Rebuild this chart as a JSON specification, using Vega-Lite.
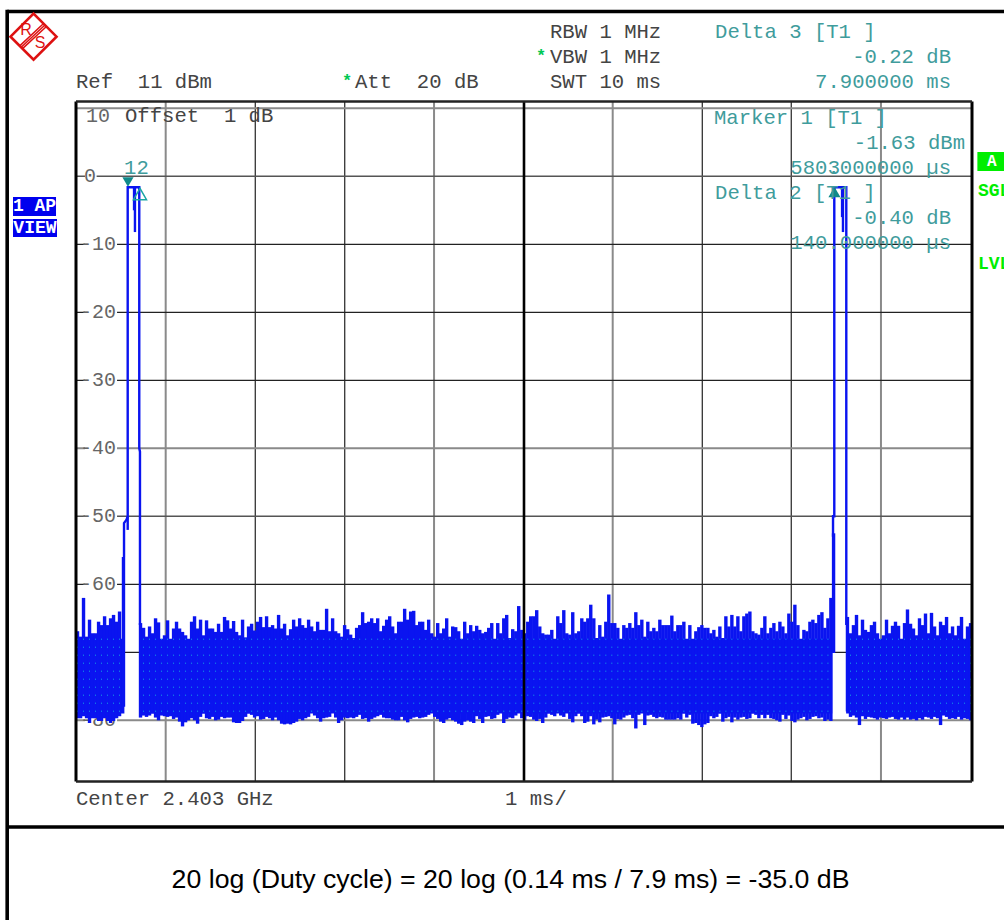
{"$schema":"https://vega.github.io/schema/vega-lite/v6.json","width":896,"height":680,"autosize":{"type":"none"},"padding":{"left":76,"top":101.5,"right":32,"bottom":138.5},"background":"white","config":{"view":{"stroke":null}},
"datasets":{
"noise":[
{"t":0.017,"v":-66.9,"v2":-79.7},{"t":0.051,"v":-67.7,"v2":-79.7},{"t":0.084,"v":-62,"v2":-79.4},{"t":0.118,"v":-67.7,"v2":-79.7},{"t":0.151,"v":-65.2,"v2":-80.4},{"t":0.185,"v":-67.2,"v2":-79.7},{"t":0.218,"v":-67.2,"v2":-79.7},{"t":0.252,"v":-65.5,"v2":-80.1},{"t":0.285,"v":-66,"v2":-80.1},{"t":0.319,"v":-64.7,"v2":-79.7},{"t":0.352,"v":-66,"v2":-80.1},{"t":0.386,"v":-65,"v2":-80.4},{"t":0.419,"v":-64.5,"v2":-80.1},{"t":0.453,"v":-65.5,"v2":-79.7},{"t":0.486,"v":-64,"v2":-79.4},{"t":0.53,"v":-56,"v2":-78},
{"t":0.72,"v":-65.7,"v2":-79.6},{"t":0.754,"v":-66.4,"v2":-79.3},{"t":0.787,"v":-67.7,"v2":-79.5},{"t":0.821,"v":-66.2,"v2":-79.3},{"t":0.854,"v":-67.2,"v2":-79},{"t":0.888,"v":-65,"v2":-79.6},{"t":0.921,"v":-65.6,"v2":-80},{"t":0.955,"v":-68.1,"v2":-79.3},{"t":0.988,"v":-67.5,"v2":-79.4},{"t":1.022,"v":-65.3,"v2":-79.5},
{"t":1.055,"v":-68.1,"v2":-79.4},{"t":1.089,"v":-66.5,"v2":-79.8},{"t":1.122,"v":-65.5,"v2":-79.6},{"t":1.156,"v":-66.5,"v2":-80.2},{"t":1.189,"v":-67,"v2":-80.9},{"t":1.223,"v":-67.5,"v2":-80.3},{"t":1.256,"v":-68.3,"v2":-80},{"t":1.29,"v":-65.5,"v2":-79.7},{"t":1.323,"v":-64.7,"v2":-80},{"t":1.357,"v":-66.5,"v2":-80.5},
{"t":1.39,"v":-65.2,"v2":-79.5},{"t":1.424,"v":-67.5,"v2":-79},{"t":1.457,"v":-65.3,"v2":-79.7},{"t":1.491,"v":-66.5,"v2":-79.8},{"t":1.524,"v":-66.5,"v2":-79.5},{"t":1.558,"v":-67,"v2":-80},{"t":1.591,"v":-65.8,"v2":-79.9},{"t":1.625,"v":-67,"v2":-79.5},{"t":1.658,"v":-64.8,"v2":-79.7},{"t":1.692,"v":-65.3,"v2":-79.6},
{"t":1.725,"v":-66.5,"v2":-79.6},{"t":1.759,"v":-65.4,"v2":-80.3},{"t":1.792,"v":-67,"v2":-80.4},{"t":1.826,"v":-67.5,"v2":-80.4},{"t":1.859,"v":-65.2,"v2":-80.1},{"t":1.893,"v":-67.8,"v2":-79.5},{"t":1.926,"v":-66.2,"v2":-79},{"t":1.96,"v":-65.8,"v2":-79.2},{"t":1.993,"v":-66.8,"v2":-79.6},{"t":2.027,"v":-65.5,"v2":-79.4},
{"t":2.06,"v":-64.8,"v2":-79.9},{"t":2.094,"v":-66.3,"v2":-79.8},{"t":2.127,"v":-64.7,"v2":-79.5},{"t":2.161,"v":-66.3,"v2":-79.7},{"t":2.194,"v":-66,"v2":-80},{"t":2.228,"v":-66.5,"v2":-79.6},{"t":2.261,"v":-64.5,"v2":-80},{"t":2.295,"v":-66.5,"v2":-80.5},{"t":2.328,"v":-65.8,"v2":-80.6},{"t":2.362,"v":-67.5,"v2":-80.5},
{"t":2.395,"v":-66.6,"v2":-80.6},{"t":2.429,"v":-65.2,"v2":-80.4},{"t":2.462,"v":-66.2,"v2":-80.2},{"t":2.496,"v":-65,"v2":-79.8},{"t":2.529,"v":-66,"v2":-80},
{"t":2.563,"v":-66.4,"v2":-79.7},{"t":2.596,"v":-65.2,"v2":-79.5},{"t":2.63,"v":-66.2,"v2":-78.9},{"t":2.663,"v":-66.9,"v2":-79.3},{"t":2.697,"v":-65.5,"v2":-79.7},
{"t":2.73,"v":-66.7,"v2":-80.2},{"t":2.764,"v":-66.7,"v2":-79.7},{"t":2.797,"v":-63.6,"v2":-79.6},{"t":2.831,"v":-66.9,"v2":-79.5},{"t":2.864,"v":-65,"v2":-78.8},{"t":2.898,"v":-66.9,"v2":-79.6},{"t":2.931,"v":-67.2,"v2":-80.4},{"t":2.965,"v":-67.7,"v2":-80},{"t":2.998,"v":-66,"v2":-79.6},{"t":3.032,"v":-66.6,"v2":-79.7},
{"t":3.065,"v":-67.4,"v2":-79.6},{"t":3.099,"v":-67.9,"v2":-79.7},{"t":3.132,"v":-66.4,"v2":-79.5},{"t":3.166,"v":-66,"v2":-79.2},{"t":3.199,"v":-64.1,"v2":-79.8},{"t":3.233,"v":-65.7,"v2":-79.7},{"t":3.266,"v":-65.5,"v2":-80.2},{"t":3.3,"v":-65,"v2":-79.8},{"t":3.333,"v":-65.7,"v2":-79.6},{"t":3.367,"v":-65,"v2":-79.4},
{"t":3.4,"v":-66.9,"v2":-79.2},{"t":3.434,"v":-66.1,"v2":-79.6},{"t":3.467,"v":-65.2,"v2":-79.7},{"t":3.501,"v":-64.7,"v2":-79.7},{"t":3.534,"v":-66.2,"v2":-79.9},{"t":3.568,"v":-67.2,"v2":-80},{"t":3.601,"v":-65.5,"v2":-80},{"t":3.635,"v":-65.5,"v2":-79.5},{"t":3.668,"v":-63.6,"v2":-80},{"t":3.702,"v":-65.2,"v2":-80.3},
{"t":3.735,"v":-64,"v2":-79.8},{"t":3.769,"v":-63.9,"v2":-79.6},{"t":3.802,"v":-66,"v2":-79.5},{"t":3.836,"v":-65.5,"v2":-79.7},{"t":3.869,"v":-65.5,"v2":-79.6},{"t":3.903,"v":-66.7,"v2":-79.5},{"t":3.936,"v":-65.2,"v2":-79.2},{"t":3.97,"v":-67.2,"v2":-78.7},{"t":4.003,"v":-67.7,"v2":-79.5},{"t":4.037,"v":-65.7,"v2":-79.8},
{"t":4.07,"v":-67.2,"v2":-80.2},{"t":4.104,"v":-66.5,"v2":-80.4},{"t":4.137,"v":-65,"v2":-79.9},{"t":4.171,"v":-67.7,"v2":-79.7},{"t":4.204,"v":-66.2,"v2":-80},{"t":4.238,"v":-66.3,"v2":-80.2},{"t":4.271,"v":-66.9,"v2":-80.5},{"t":4.305,"v":-68.2,"v2":-80.7},{"t":4.338,"v":-65.5,"v2":-80.2},{"t":4.372,"v":-67.2,"v2":-80},
{"t":4.405,"v":-66,"v2":-80.2},{"t":4.439,"v":-66.9,"v2":-80.4},{"t":4.472,"v":-66.1,"v2":-79.4},{"t":4.506,"v":-66.7,"v2":-79.8},{"t":4.539,"v":-67.2,"v2":-80.4},{"t":4.573,"v":-67,"v2":-79.5},{"t":4.606,"v":-66.4,"v2":-79.4},{"t":4.64,"v":-65.7,"v2":-79.8},{"t":4.673,"v":-68.2,"v2":-79.7},{"t":4.707,"v":-65.7,"v2":-79.2},
{"t":4.74,"v":-67.2,"v2":-78.8},{"t":4.774,"v":-65,"v2":-80.4},{"t":4.807,"v":-64.5,"v2":-79.8},{"t":4.841,"v":-67.9,"v2":-79.6},{"t":4.874,"v":-66.6,"v2":-79.7},{"t":4.908,"v":-66.9,"v2":-79.3},{"t":4.941,"v":-63.2,"v2":-78.8},{"t":4.975,"v":-66.7,"v2":-79.7},{"t":5.008,"v":-67.2,"v2":-80},{"t":5.042,"v":-65.5,"v2":-79.4},
{"t":5.075,"v":-64.7,"v2":-79.5},{"t":5.109,"v":-64.7,"v2":-79.9},{"t":5.142,"v":-63.8,"v2":-80.1},{"t":5.176,"v":-66.2,"v2":-79.8},{"t":5.209,"v":-67.2,"v2":-80.4},{"t":5.243,"v":-67.4,"v2":-79.6},{"t":5.276,"v":-67.4,"v2":-79},{"t":5.31,"v":-66.7,"v2":-79.2},{"t":5.343,"v":-68.2,"v2":-79.4},{"t":5.377,"v":-64.7,"v2":-78.4},
{"t":5.41,"v":-65.7,"v2":-79.3},{"t":5.444,"v":-63.8,"v2":-79.5},{"t":5.477,"v":-67.2,"v2":-78.9},{"t":5.511,"v":-67.4,"v2":-79.8},{"t":5.544,"v":-64.1,"v2":-80.3},{"t":5.578,"v":-67.2,"v2":-79.4},{"t":5.611,"v":-66.9,"v2":-79},{"t":5.645,"v":-65,"v2":-79.4},{"t":5.678,"v":-65.5,"v2":-80.4},{"t":5.712,"v":-65,"v2":-80.2},
{"t":5.745,"v":-63,"v2":-79.4},{"t":5.779,"v":-65,"v2":-80.6},{"t":5.812,"v":-67.9,"v2":-79.9},{"t":5.846,"v":-66,"v2":-80.3},{"t":5.879,"v":-67.7,"v2":-79.6},{"t":5.913,"v":-65.5,"v2":-79.5},{"t":5.946,"v":-61.5,"v2":-79.4},{"t":5.98,"v":-65.7,"v2":-79.7},{"t":6.013,"v":-65.7,"v2":-80.6},{"t":6.047,"v":-66.4,"v2":-79.8},
{"t":6.08,"v":-68.4,"v2":-79.9},{"t":6.114,"v":-66,"v2":-79.6},{"t":6.147,"v":-66.4,"v2":-79.3},{"t":6.181,"v":-65.7,"v2":-79.2},{"t":6.214,"v":-66.4,"v2":-79.7},{"t":6.248,"v":-64.1,"v2":-81.2},{"t":6.281,"v":-66,"v2":-79.2},{"t":6.315,"v":-65.2,"v2":-78.6},{"t":6.348,"v":-67.7,"v2":-80.7},{"t":6.382,"v":-65.5,"v2":-79.3},
{"t":6.415,"v":-66.9,"v2":-79.2},{"t":6.449,"v":-66.4,"v2":-79.5},{"t":6.482,"v":-66.9,"v2":-79.7},{"t":6.516,"v":-65.2,"v2":-79.5},{"t":6.549,"v":-66,"v2":-79.6},{"t":6.583,"v":-66,"v2":-79.9},{"t":6.616,"v":-66,"v2":-79.9},{"t":6.65,"v":-64.6,"v2":-79.9},{"t":6.683,"v":-66.9,"v2":-79.9},{"t":6.717,"v":-66,"v2":-79.7},
{"t":6.75,"v":-66,"v2":-79.9},{"t":6.784,"v":-65.5,"v2":-79},{"t":6.817,"v":-68.2,"v2":-79.6},{"t":6.851,"v":-66,"v2":-79.2},{"t":6.884,"v":-68.2,"v2":-80.5},{"t":6.918,"v":-66.9,"v2":-80.4},{"t":6.951,"v":-66.3,"v2":-80.7},{"t":6.985,"v":-66,"v2":-81},{"t":7.018,"v":-66.4,"v2":-80.6},{"t":7.052,"v":-66.4,"v2":-80.4},
{"t":7.085,"v":-67.2,"v2":-79.4},{"t":7.119,"v":-66.7,"v2":-79.7},{"t":7.152,"v":-67.7,"v2":-79.5},{"t":7.186,"v":-66.2,"v2":-79},{"t":7.219,"v":-67.9,"v2":-80.2},{"t":7.253,"v":-64.7,"v2":-79.7},{"t":7.286,"v":-66.2,"v2":-79.5},{"t":7.32,"v":-64.5,"v2":-80.3},{"t":7.353,"v":-66.2,"v2":-79.6},{"t":7.387,"v":-64.7,"v2":-79.9},
{"t":7.42,"v":-66.9,"v2":-79.6},{"t":7.454,"v":-64.7,"v2":-79.5},{"t":7.487,"v":-64.3,"v2":-79.8},{"t":7.521,"v":-64,"v2":-79.7},{"t":7.554,"v":-66.9,"v2":-79},
{"t":7.588,"v":-67.2,"v2":-79.2},{"t":7.621,"v":-67.4,"v2":-79.7},{"t":7.655,"v":-66.4,"v2":-79.2},{"t":7.688,"v":-64.7,"v2":-79.7},{"t":7.722,"v":-67.2,"v2":-79.2},
{"t":7.755,"v":-66.4,"v2":-79.7},{"t":7.789,"v":-65.7,"v2":-79.8},{"t":7.822,"v":-66.9,"v2":-80},{"t":7.856,"v":-65.5,"v2":-80.2},{"t":7.889,"v":-66.2,"v2":-79.2},{"t":7.923,"v":-67.2,"v2":-79.8},{"t":7.956,"v":-64.3,"v2":-79.3},{"t":7.99,"v":-65.5,"v2":-80.1},{"t":8.023,"v":-63,"v2":-80.3},{"t":8.057,"v":-66,"v2":-79.9},
{"t":8.09,"v":-68.2,"v2":-79.7},{"t":8.124,"v":-66.7,"v2":-79.5},{"t":8.157,"v":-66.9,"v2":-80},{"t":8.191,"v":-65.5,"v2":-79.8},{"t":8.224,"v":-65.2,"v2":-79.5},{"t":8.258,"v":-65.7,"v2":-79.4},{"t":8.291,"v":-64.5,"v2":-79.7},{"t":8.325,"v":-64.1,"v2":-79.6},{"t":8.358,"v":-66.4,"v2":-80.1},{"t":8.392,"v":-65,"v2":-79.9},
{"t":8.425,"v":-62,"v2":-80.1},{"t":8.455,"v":-52.5,"v2":-70.1},
{"t":8.61,"v":-64.8,"v2":-78.7},{"t":8.644,"v":-67.2,"v2":-79.5},{"t":8.677,"v":-66,"v2":-79.3},{"t":8.711,"v":-64.5,"v2":-79.6},{"t":8.744,"v":-67.5,"v2":-80.7},{"t":8.778,"v":-65.2,"v2":-79.4},{"t":8.811,"v":-66.7,"v2":-79.8},{"t":8.845,"v":-67,"v2":-79.5},{"t":8.878,"v":-66,"v2":-79.6},{"t":8.912,"v":-65.5,"v2":-79.7},
{"t":8.945,"v":-67.2,"v2":-79.9},{"t":8.979,"v":-68.2,"v2":-79.6},{"t":9.012,"v":-67.5,"v2":-79.7},{"t":9.046,"v":-65.2,"v2":-79.8},{"t":9.079,"v":-67.2,"v2":-79.6},{"t":9.113,"v":-66.1,"v2":-79.5},{"t":9.146,"v":-65.5,"v2":-79.8},{"t":9.18,"v":-66.1,"v2":-79.9},{"t":9.213,"v":-68.2,"v2":-79.6},{"t":9.247,"v":-65.7,"v2":-79.9},
{"t":9.28,"v":-63.7,"v2":-79.6},{"t":9.314,"v":-65.8,"v2":-79.9},{"t":9.347,"v":-66.5,"v2":-79.8},{"t":9.381,"v":-67.5,"v2":-80},{"t":9.414,"v":-65,"v2":-79.7},{"t":9.448,"v":-66,"v2":-79.9},{"t":9.481,"v":-64.3,"v2":-79.5},{"t":9.515,"v":-67.2,"v2":-79.6},{"t":9.548,"v":-64.2,"v2":-79.8},{"t":9.582,"v":-66.2,"v2":-79.5},
{"t":9.615,"v":-67.5,"v2":-79.7},{"t":9.649,"v":-65.5,"v2":-80.7},{"t":9.682,"v":-66,"v2":-79.3},{"t":9.716,"v":-64.8,"v2":-79.5},{"t":9.749,"v":-67.2,"v2":-79.8},{"t":9.783,"v":-66.2,"v2":-79.7},{"t":9.816,"v":-67.5,"v2":-79.8},{"t":9.85,"v":-66.1,"v2":-79.5},{"t":9.883,"v":-64.8,"v2":-79.9},{"t":9.917,"v":-68.2,"v2":-79.7},{"t":9.95,"v":-66.2,"v2":-79.8},{"t":9.984,"v":-65.7,"v2":-80}
],
"trace":[
{"s":"a","i":0,"t":0.536,"v":-56},{"s":"a","i":1,"t":0.536,"v":-51},{"s":"a","i":2,"t":0.564,"v":-50.5},{"s":"a","i":3,"t":0.577,"v":-50},{"s":"a","i":4,"t":0.577,"v":-1.6},{"s":"a","i":5,"t":0.706,"v":-1.6},{"s":"a","i":6,"t":0.706,"v":-40},{"s":"a","i":7,"t":0.714,"v":-40.5},{"s":"a","i":8,"t":0.714,"v":-66},
{"s":"b","i":0,"t":0.577,"v":-52},{"s":"b","i":1,"t":0.577,"v":-50},
{"s":"c","i":0,"t":0.658,"v":-1.6},{"s":"c","i":1,"t":0.658,"v":-8.2},
{"s":"c2","i":0,"t":0.648,"v":-1.6},{"s":"c2","i":1,"t":0.648,"v":-5},
{"s":"d","i":0,"t":8.449,"v":-53},{"s":"d","i":1,"t":8.449,"v":-50},{"s":"d","i":2,"t":8.463,"v":-50},{"s":"d","i":3,"t":8.463,"v":-1.6},{"s":"d","i":4,"t":8.597,"v":-1.6},{"s":"d","i":5,"t":8.597,"v":-66},
{"s":"e","i":0,"t":8.56,"v":-1.6},{"s":"e","i":1,"t":8.56,"v":-8.2},
{"s":"e2","i":0,"t":8.55,"v":-1.6},{"s":"e2","i":1,"t":8.55,"v":-6}
],
"logo":[
{"s":"a","i":0,"t":-0.622,"v":19.26},{"s":"a","i":1,"t":-0.362,"v":22.46},
{"s":"b","i":0,"t":-0.606,"v":19.06},{"s":"b","i":1,"t":-0.346,"v":22.25},
{"s":"c","i":0,"t":-0.591,"v":18.85},{"s":"c","i":1,"t":-0.33,"v":22.04}
]
},
"encoding":{"x":{"field":"t","type":"quantitative","scale":{"domain":[0,10],"nice":false,"zero":false},"axis":null},"y":{"field":"v","type":"quantitative","scale":{"domain":[-89,11],"nice":false,"zero":false},"axis":null}},
"layer":[
{"data":{"values":[{"t":1.001,"v":11,"v2":-89},{"t":3.996,"v":11,"v2":-89},{"t":5.99,"v":11,"v2":-89},{"t":8.984,"v":11,"v2":-89}]},"mark":{"type":"rule","color":"#8a8a8a","strokeWidth":2},"encoding":{"y2":{"field":"v2"}}},
{"data":{"values":[{"t":2.001,"v":11,"v2":-89},{"t":2.999,"v":11,"v2":-89},{"t":6.99,"v":11,"v2":-89},{"t":7.983,"v":11,"v2":-89}]},"mark":{"type":"rule","color":"#333333","strokeWidth":1.3},"encoding":{"y2":{"field":"v2"}}},
{"data":{"values":[{"t":0,"t2":10,"v":10},{"t":0,"t2":10,"v":-40},{"t":0,"t2":10,"v":-80}]},"mark":{"type":"rule","color":"#8a8a8a","strokeWidth":2},"encoding":{"x2":{"field":"t2"}}},
{"data":{"values":[{"t":0,"t2":10,"v":0},{"t":0,"t2":10,"v":-50}]},"mark":{"type":"rule","color":"#555555","strokeWidth":1.6},"encoding":{"x2":{"field":"t2"}}},
{"data":{"values":[{"t":0,"t2":10,"v":-10},{"t":0,"t2":10,"v":-20},{"t":0,"t2":10,"v":-30},{"t":0,"t2":10,"v":-60},{"t":0,"t2":10,"v":-70}]},"mark":{"type":"rule","color":"#222222","strokeWidth":1.3},"encoding":{"x2":{"field":"t2"}}},
{"data":{"values":[{"t":0.1,"t2":0.23,"v":1,"v2":-1},{"t":0.1,"t2":0.458,"v":-9,"v2":-11},{"t":0.1,"t2":0.458,"v":-19,"v2":-21},{"t":0.1,"t2":0.458,"v":-29,"v2":-31},{"t":0.1,"t2":0.458,"v":-39,"v2":-41},{"t":0.1,"t2":0.458,"v":-49,"v2":-51},{"t":0.1,"t2":0.458,"v":-59,"v2":-61},{"t":0.1,"t2":0.458,"v":-79,"v2":-81}]},"mark":{"type":"rect","color":"white"},"encoding":{"x2":{"field":"t2"},"y2":{"field":"v2"}}},
{"data":{"values":[{"t":0.089,"v":0,"label":"0"},{"t":0.112,"v":8.87,"label":"10"}]},"mark":{"type":"text","font":"Liberation Mono","fontSize":20,"align":"left","baseline":"middle","color":"#666666"},"encoding":{"text":{"field":"label"}}},
{"data":{"values":[{"t":0.446,"v":-10,"label":"-10"},{"t":0.446,"v":-20,"label":"-20"},{"t":0.446,"v":-30,"label":"-30"},{"t":0.446,"v":-40,"label":"-40"},{"t":0.446,"v":-50,"label":"-50"},{"t":0.446,"v":-60,"label":"-60"},{"t":0.446,"v":-70,"label":"-70"},{"t":0.446,"v":-80,"label":"-80"}]},"mark":{"type":"text","font":"Liberation Mono","fontSize":20,"align":"right","baseline":"middle","color":"#666666"},"encoding":{"text":{"field":"label"}}},
{"data":{"values":[{"t":0.01,"t2":0.54,"v":-68,"v2":-79},{"t":0.705,"t2":8.44,"v":-68,"v2":-79},{"t":8.595,"t2":9.995,"v":-68,"v2":-79}]},"mark":{"type":"rect","color":"#0a14f0"},"encoding":{"x2":{"field":"t2"},"y2":{"field":"v2"}}},
{"data":{"name":"noise"},"mark":{"type":"rule","color":"#0a14f0","strokeWidth":3.4,"opacity":1},"encoding":{"y2":{"field":"v2"}}},
{"data":{"name":"noise"},"transform":[{"filter":"datum.v < -60 && floor(datum.t / 0.0335) % 2 == 0"}],"mark":{"type":"rule","color":"#19d6e0","strokeWidth":1,"strokeDash":[1,7],"opacity":0.75},"encoding":{"y":{"datum":-68},"y2":{"datum":-79.5}}},
{"data":{"name":"trace"},"mark":{"type":"line","color":"#0a14f0","strokeWidth":2.4,"interpolate":"linear"},"encoding":{"detail":{"field":"s"},"order":{"field":"i"}}},
{"data":{"values":[{"t":0,"v":11,"v2":-89},{"t":10,"v":11,"v2":-89}]},"mark":{"type":"rule","color":"#000000","strokeWidth":3},"encoding":{"y2":{"field":"v2"}}},
{"data":{"values":[{"t":5,"v":11,"v2":-89}]},"mark":{"type":"rule","color":"#000000","strokeWidth":2.6},"encoding":{"y2":{"field":"v2"}}},
{"data":{"values":[{"t":0,"t2":10,"v":11},{"t":0,"t2":10,"v":-89}]},"mark":{"type":"rule","color":"#222222","strokeWidth":2.6},"encoding":{"x2":{"field":"t2"}}},
{"data":{"values":[{"t":-0.768,"t2":10.37,"v":24.23},{"t":-0.768,"t2":10.37,"v":-95.7}]},"mark":{"type":"rule","color":"#000000","strokeWidth":3.6},"encoding":{"x2":{"field":"t2"}}},
{"data":{"values":[{"t":-0.768,"v":24.5,"v2":-109.5}]},"mark":{"type":"rule","color":"#000000","strokeWidth":3.6},"encoding":{"y2":{"field":"v2"}}},
{"data":{"values":[{"t":0.58,"v":-0.84}]},"mark":{"type":"point","shape":"triangle-down","size":125,"filled":true,"color":"#0f8a8a","opacity":1}},
{"data":{"values":[{"t":8.465,"v":-2.3}]},"mark":{"type":"point","shape":"triangle-up","size":145,"filled":true,"color":"#0f8a8a","opacity":1}},
{"data":{"values":[{"t":0.714,"v":-2.6}]},"mark":{"type":"point","shape":"triangle-up","size":170,"filled":false,"color":"#1aa5a5","strokeWidth":1.5,"opacity":1}},
{"data":{"values":[{"t":0,"v":13.87,"label":"Ref\u00a0\u00a011\u00a0dBm"},{"t":3.114,"v":13.87,"label":"Att\u00a0\u00a020\u00a0dB"},{"t":5.29,"v":21.2,"label":"RBW 1 MHz"},{"t":5.29,"v":17.54,"label":"VBW 1 MHz"},{"t":5.29,"v":13.87,"label":"SWT 10 ms"},{"t":0,"v":-91.6,"label":"Center 2.403 GHz"},{"t":4.788,"v":-91.6,"label":"1 ms/"},{"t":0.547,"v":8.87,"label":"Offset\u00a0\u00a01\u00a0dB"}]},"mark":{"type":"text","font":"Liberation Mono","fontSize":20.6,"align":"left","baseline":"middle","color":"#444444"},"encoding":{"text":{"field":"label"}}},
{"data":{"values":[{"t":7.132,"v":21.2,"label":"Delta 3 [T1 ]"},{"t":7.12,"v":8.57,"label":"Marker 1 [T1 ]"},{"t":7.132,"v":-2.46,"label":"Delta 2 [T1 ]"},{"t":0.536,"v":1.22,"label":"12"},{"t":8.39,"v":1.22,"label":"3"}]},"mark":{"type":"text","font":"Liberation Mono","fontSize":20.6,"align":"left","baseline":"middle","color":"#3f9c9c"},"encoding":{"text":{"field":"label"}}},
{"data":{"values":[{"t":9.766,"v":17.54,"label":"-0.22 dB"},{"t":9.766,"v":13.87,"label":"7.900000 ms"},{"t":9.922,"v":4.9,"label":"-1.63 dBm"},{"t":9.766,"v":1.22,"label":"580.000000 µs"},{"t":9.766,"v":-6.13,"label":"-0.40 dB"},{"t":9.766,"v":-9.81,"label":"140.000000 µs"}]},"mark":{"type":"text","font":"Liberation Mono","fontSize":20.6,"align":"right","baseline":"middle","color":"#3f9c9c"},"encoding":{"text":{"field":"label"}}},
{"data":{"values":[{"t":5.19,"v":17.7,"label":"*"},{"t":3.025,"v":14.0,"label":"*"}]},"mark":{"type":"text","font":"Liberation Mono","fontSize":17,"fontWeight":"bold","align":"center","baseline":"middle","color":"#00c853"},"encoding":{"text":{"field":"label"}}},
{"data":{"values":[{"t":-0.703,"t2":-0.223,"v":-3.04,"v2":-5.84},{"t":-0.703,"t2":-0.212,"v":-6.28,"v2":-8.93}]},"mark":{"type":"rect","color":"#0000ee"},"encoding":{"x2":{"field":"t2"},"y2":{"field":"v2"}}},
{"data":{"values":[{"t":-0.463,"v":-4.44,"label":"1 AP"},{"t":-0.458,"v":-7.6,"label":"VIEW"}]},"mark":{"type":"text","font":"Liberation Mono","fontSize":18,"fontWeight":"bold","align":"center","baseline":"middle","color":"white"},"encoding":{"text":{"field":"label"}}},
{"data":{"values":[{"t":10.06,"t2":10.36,"v":3.57,"v2":0.78}]},"mark":{"type":"rect","color":"#00ee00"},"encoding":{"x2":{"field":"t2"},"y2":{"field":"v2"}}},
{"data":{"values":[{"t":10.22,"v":2.18,"label":"A"}]},"mark":{"type":"text","font":"Liberation Mono","fontSize":16,"fontWeight":"bold","align":"center","baseline":"middle","color":"white"},"encoding":{"text":{"field":"label"}}},
{"data":{"values":[{"t":10.067,"v":-2.16,"label":"SGL"},{"t":10.067,"v":-12.9,"label":"LVL"}]},"mark":{"type":"text","font":"Liberation Mono","fontSize":18,"fontWeight":"bold","align":"left","baseline":"middle","color":"#00ee00"},"encoding":{"text":{"field":"label"}}},
{"data":{"values":[{"t":4.85,"v":-103.5,"label":"20 log (Duty cycle) = 20 log (0.14 ms / 7.9 ms) = -35.0 dB"}]},"mark":{"type":"text","font":"Liberation Sans","fontSize":26.7,"align":"center","baseline":"middle","color":"#000000"},"encoding":{"text":{"field":"label"}}},
{"data":{"values":[{"t":-0.474,"v":20.53}]},"mark":{"type":"point","shape":"diamond","size":2116,"filled":false,"color":"#dd1111","strokeWidth":2.6,"opacity":1}},
{"data":{"name":"logo"},"mark":{"type":"line","color":"#dd1111","strokeWidth":1.5},"encoding":{"detail":{"field":"s"},"order":{"field":"i"}}},
{"data":{"values":[{"t":-0.558,"v":21.5,"label":"R"},{"t":-0.402,"v":19.6,"label":"S"}]},"mark":{"type":"text","font":"Liberation Sans","fontSize":16,"align":"center","baseline":"middle","color":"#dd1111"},"encoding":{"text":{"field":"label"}}}
]}
